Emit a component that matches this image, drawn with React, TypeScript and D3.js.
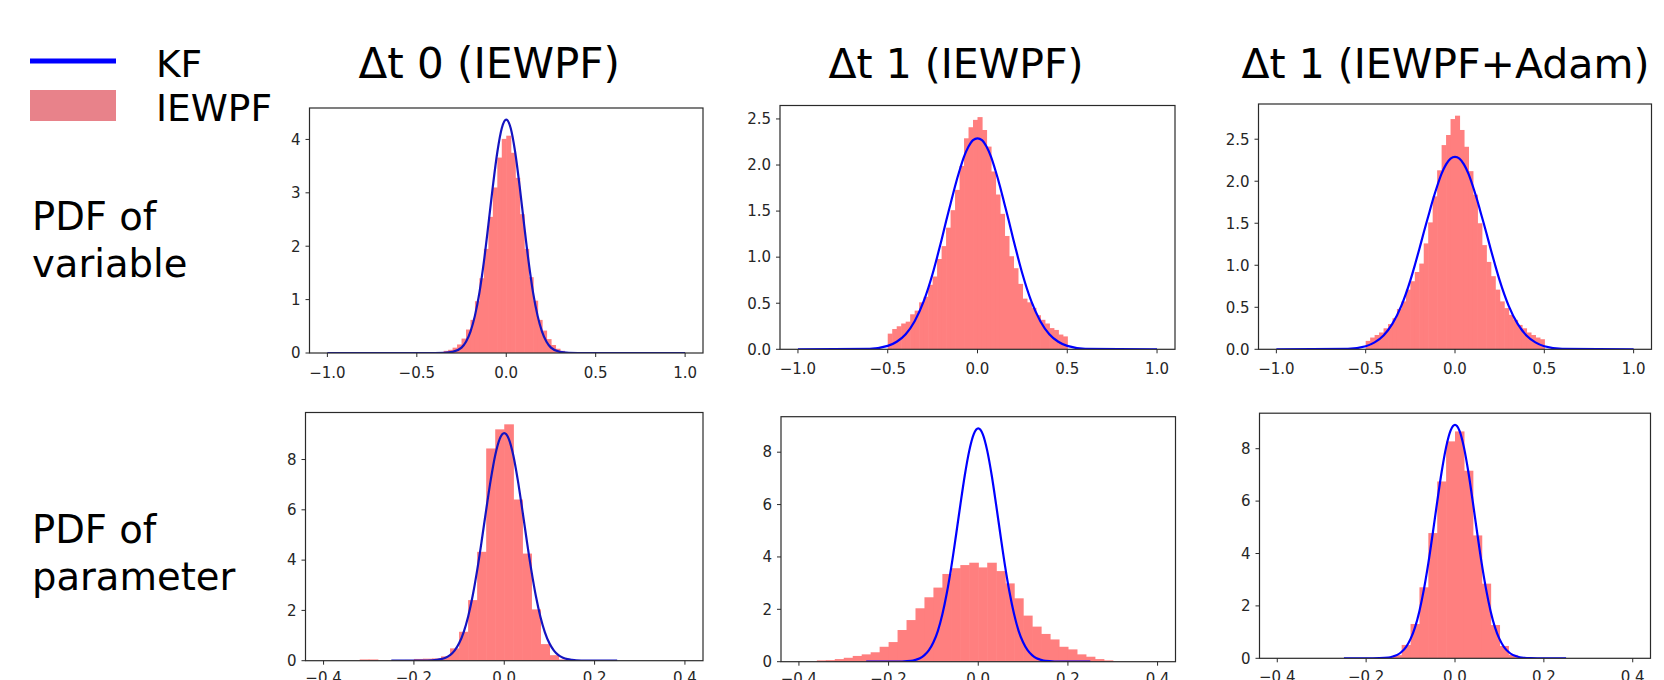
import React from "react";
import * as d3 from "d3";

// ---------- data ----------
const columnTitles = ["Δt 0 (IEWPF)", "Δt 1 (IEWPF)", "Δt 1 (IEWPF+Adam)"];
const rowLabels = [["PDF of", "variable"], ["PDF of", "parameter"]];
const legendLabels = ["KF", "IEWPF"];

// histogram bins: top row 40 bins over [-0.5, 0.5], bottom row 40 bins over [-0.4, 0.4]
const topBinStart = -0.5;
const topBinWidth = 0.025;
const botBinStart = -0.4;
const botBinWidth = 0.02;

const histVarDt0 = [
  0, 0, 0, 0, 0, 0.01, 0.04, 0.06, 0.1, 0.16, 0.27, 0.44, 0.62, 0.97, 1.4, 1.95, 2.55, 3.1, 3.66, 4.01,
  4.07, 3.75, 3.28, 2.6, 1.95, 1.42, 0.98, 0.62, 0.42, 0.26, 0.15, 0.08, 0.04, 0.01, 0, 0, 0, 0, 0, 0,
];
const histVarDt1 = [
  0.17, 0.22, 0.25, 0.28, 0.3, 0.38, 0.42, 0.51, 0.57, 0.7, 0.79, 0.98, 1.12, 1.32, 1.51, 1.73, 1.99, 2.29, 2.41, 2.49,
  2.52, 2.38, 2.2, 1.93, 1.68, 1.47, 1.23, 1.01, 0.88, 0.71, 0.55, 0.51, 0.45, 0.37, 0.32, 0.28, 0.23, 0.21, 0.16, 0.14,
];
const histVarDt1Adam = [
  0.1, 0.14, 0.17, 0.2, 0.25, 0.3, 0.37, 0.48, 0.57, 0.71, 0.81, 0.92, 1.02, 1.26, 1.51, 1.82, 2.13, 2.43, 2.55, 2.74,
  2.78, 2.61, 2.41, 2.12, 1.84, 1.5, 1.24, 1.04, 0.87, 0.71, 0.57, 0.49, 0.41, 0.35, 0.29, 0.25, 0.2, 0.17, 0.14, 0.12,
];
const histParDt0 = [
  0, 0, 0, 0, 0.05, 0.05, 0.01, 0.01, 0.02, 0.03, 0.07, 0.08, 0.09, 0.17, 0.49, 1.15, 2.41, 4.33, 8.44, 9.2,
  9.4, 6.41, 4.26, 2.04, 0.66, 0.22, 0.05, 0, 0, 0, 0, 0, 0, 0, 0, 0, 0, 0, 0, 0,
];
const histParDt1 = [
  0, 0, 0.05, 0.06, 0.1, 0.15, 0.22, 0.28, 0.36, 0.57, 0.75, 1.21, 1.59, 2.04, 2.46, 2.83, 3.35, 3.57, 3.69, 3.78,
  3.6, 3.78, 3.46, 2.99, 2.42, 1.76, 1.34, 1.06, 0.85, 0.57, 0.47, 0.28, 0.19, 0.1, 0.05, 0, 0, 0, 0, 0,
];
const histParDt1Adam = [
  0, 0, 0, 0, 0, 0, 0, 0, 0, 0, 0, 0.01, 0.03, 0.12, 0.51, 1.31, 2.71, 4.78, 6.75, 8.28,
  8.66, 7.16, 4.69, 2.85, 1.27, 0.47, 0.13, 0.04, 0, 0, 0, 0, 0, 0, 0, 0, 0, 0, 0, 0,
];

// KF density curves
const kfTopX = [
  -1, -0.6, -0.5, -0.45, -0.4, -0.35, -0.3, -0.25, -0.225, -0.2, -0.175, -0.15, -0.125, -0.1, -0.075, -0.05, -0.025,
  0, 0.025, 0.05, 0.075, 0.1, 0.125, 0.15, 0.175, 0.2, 0.225, 0.25, 0.3, 0.35, 0.4, 0.45, 0.5, 0.6, 1,
];
const kfVarDt0 = [
  0, 0, 0, 0, 0, 0.003, 0.02, 0.1, 0.21, 0.4, 0.7, 1.13, 1.71, 2.4, 3.12, 3.76, 4.21,
  4.37, 4.21, 3.76, 3.12, 2.4, 1.71, 1.13, 0.7, 0.4, 0.21, 0.1, 0.02, 0.003, 0, 0, 0, 0, 0,
];
const kfVarDt1 = [
  0, 0.006, 0.037, 0.082, 0.164, 0.305, 0.52, 0.82, 1.0, 1.19, 1.39, 1.58, 1.77, 1.94, 2.09, 2.2, 2.27,
  2.29, 2.27, 2.2, 2.09, 1.94, 1.77, 1.58, 1.39, 1.19, 1.0, 0.82, 0.52, 0.305, 0.164, 0.082, 0.037, 0.006, 0,
];
const kfBotX = [
  -0.25, -0.2, -0.17, -0.15, -0.14, -0.13, -0.12, -0.11, -0.1, -0.09, -0.08, -0.07, -0.06, -0.05, -0.04, -0.03, -0.02, -0.01,
  0, 0.01, 0.02, 0.03, 0.04, 0.05, 0.06, 0.07, 0.08, 0.09, 0.1, 0.11, 0.12, 0.13, 0.14, 0.15, 0.17, 0.2, 0.25,
];
const kfParDt0 = [
  0, 0, 0.005, 0.03, 0.06, 0.12, 0.22, 0.4, 0.69, 1.13, 1.75, 2.57, 3.59, 4.76, 6.0, 7.18, 8.17, 8.82,
  9.05, 8.82, 8.17, 7.18, 6.0, 4.76, 3.59, 2.57, 1.75, 1.13, 0.69, 0.4, 0.22, 0.12, 0.06, 0.03, 0.005, 0, 0,
];
const kfParDt1 = [
  0, 0, 0.007, 0.03, 0.07, 0.13, 0.25, 0.44, 0.74, 1.18, 1.81, 2.63, 3.63, 4.78, 5.98, 7.12, 8.06, 8.69,
  8.91, 8.69, 8.06, 7.12, 5.98, 4.78, 3.63, 2.63, 1.81, 1.18, 0.74, 0.44, 0.25, 0.13, 0.07, 0.03, 0.007, 0, 0,
];

const topXTicks = [-1, -0.5, 0, 0.5, 1];
const botXTicks = [-0.4, -0.2, 0, 0.2, 0.4];
const yTicksDt0Var = [0, 1, 2, 3, 4];
const yTicksVarDt1 = [0, 0.5, 1, 1.5, 2, 2.5];
const yTicksPar = [0, 2, 4, 6, 8];

// ---------- layout ----------
const W = 1664;
const H = 680;
const FONT = "DejaVu Sans, Verdana, sans-serif";
const HIST_COLOR = "#ff7f7f";
const LINE_COLOR = "#0000ff";
const LINE_COLOR_DARK = "#1414c0";

type Panel = {
  box: [number, number, number, number]; // left, right, top, bottom
  hist: number[];
  binStart: number;
  binWidth: number;
  kfX: number[];
  kfY: number[];
  xExtent: [number, number];
  xTicks: number[];
  yTicks: number[];
  yDecimals: number;
  labelDy: number;
  lineColor: string;
};

const panels: Panel[] = [
  { box: [309.5, 703, 108, 353], hist: histVarDt0, binStart: topBinStart, binWidth: topBinWidth, kfX: kfTopX, kfY: kfVarDt0, xExtent: [-1, 1], xTicks: topXTicks, yTicks: yTicksDt0Var, yDecimals: 0, labelDy: 25, lineColor: LINE_COLOR_DARK },
  { box: [780, 1175, 105.5, 349.3], hist: histVarDt1, binStart: topBinStart, binWidth: topBinWidth, kfX: kfTopX, kfY: kfVarDt1, xExtent: [-1, 1], xTicks: topXTicks, yTicks: yTicksVarDt1, yDecimals: 1, labelDy: 25, lineColor: LINE_COLOR },
  { box: [1258.5, 1651.5, 104, 349.3], hist: histVarDt1Adam, binStart: topBinStart, binWidth: topBinWidth, kfX: kfTopX, kfY: kfVarDt1, xExtent: [-1, 1], xTicks: topXTicks, yTicks: yTicksVarDt1, yDecimals: 1, labelDy: 25, lineColor: LINE_COLOR },
  { box: [305.5, 703, 412.5, 660.7], hist: histParDt0, binStart: botBinStart, binWidth: botBinWidth, kfX: kfBotX, kfY: kfParDt0, xExtent: [-0.4, 0.4], xTicks: botXTicks, yTicks: yTicksPar, yDecimals: 0, labelDy: 22.5, lineColor: LINE_COLOR_DARK },
  { box: [781, 1175.5, 416.7, 661.7], hist: histParDt1, binStart: botBinStart, binWidth: botBinWidth, kfX: kfBotX, kfY: kfParDt1, xExtent: [-0.4, 0.4], xTicks: botXTicks, yTicks: yTicksPar, yDecimals: 0, labelDy: 22.5, lineColor: LINE_COLOR },
  { box: [1259.5, 1650.5, 413.2, 658.3], hist: histParDt1Adam, binStart: botBinStart, binWidth: botBinWidth, kfX: kfBotX, kfY: kfParDt1, xExtent: [-0.4, 0.4], xTicks: botXTicks, yTicks: yTicksPar, yDecimals: 0, labelDy: 23.5, lineColor: LINE_COLOR },
];

const fmt = (v: number, d: number) => {
  const s = Math.abs(v).toFixed(d);
  return (v < 0 ? "\u2212" : "") + s;
};

function PanelView({ p, idx }: { p: Panel; idx: number }) {
  const [l, r, t, b] = p.box;
  const span = p.xExtent[1] - p.xExtent[0];
  const x = d3.scaleLinear().domain([p.xExtent[0] - 0.05 * span, p.xExtent[1] + 0.05 * span]).range([l, r]);
  const ymax = 1.05 * Math.max(d3.max(p.hist) ?? 0, d3.max(p.kfY) ?? 0);
  const y = d3.scaleLinear().domain([0, ymax]).range([b, t]);
  const line = d3
    .line<number>()
    .x((_, i) => x(p.kfX[i]))
    .y((v) => y(v))
    .curve(d3.curveMonotoneX);
  const clipId = `clip${idx}`;
  return (
    <g>
      <defs>
        <clipPath id={clipId}>
          <rect x={l} y={t} width={r - l} height={b - t} />
        </clipPath>
      </defs>
      <g clipPath={`url(#${clipId})`}>
        {p.hist.map((v, i) => {
          if (v <= 0) return null;
          const x0 = x(p.binStart + i * p.binWidth);
          const x1 = x(p.binStart + (i + 1) * p.binWidth);
          return <rect key={i} x={x0} y={y(v)} width={x1 - x0 + 0.6} height={b - y(v)} fill={HIST_COLOR} />;
        })}
        <path d={line(p.kfY) ?? ""} fill="none" stroke={p.lineColor} strokeWidth={2.2} />
      </g>
      <rect x={l} y={t} width={r - l} height={b - t} fill="none" stroke="#2a2a2a" strokeWidth={1.2} />
      {p.xTicks.map((v) => (
        <g key={`x${v}`}>
          <line x1={x(v)} x2={x(v)} y1={b} y2={b + 4} stroke="#2a2a2a" strokeWidth={1} />
          <text x={x(v)} y={b + p.labelDy} textAnchor="middle" fontSize={15} fontFamily={FONT} fill="#262626">
            {fmt(v, 1)}
          </text>
        </g>
      ))}
      {p.yTicks.map((v) => (
        <g key={`y${v}`}>
          <line x1={l - 4} x2={l} y1={y(v)} y2={y(v)} stroke="#2a2a2a" strokeWidth={1} />
          <text x={l - 9} y={y(v) + 5.3} textAnchor="end" fontSize={15} fontFamily={FONT} fill="#262626">
            {fmt(v, p.yDecimals)}
          </text>
        </g>
      ))}
    </g>
  );
}

export default function App() {
  const titleX = [358.5, 828.5, 1241.5];
  return (
    <svg width={W} height={H} style={{ position: "absolute", left: 0, top: 0, background: "#fff" }}>
      <rect x={0} y={0} width={W} height={H} fill="#fff" />
      {/* legend */}
      <line x1={30} x2={116} y1={61} y2={61} stroke={LINE_COLOR} strokeWidth={5} />
      <rect x={30} y={90} width={86} height={31} fill="#e8828a" />
      <text x={156} y={77} fontSize={37.5} fontFamily={FONT} fill="#000">{legendLabels[0]}</text>
      <text x={156} y={121} fontSize={37.5} fontFamily={FONT} fill="#000">{legendLabels[1]}</text>
      {/* column titles */}
      {columnTitles.map((s, i) => (
        <text key={s} x={titleX[i]} y={77.5} fontSize={i === 0 ? 42 : 41} fontFamily={FONT} fill="#000">
          {s}
        </text>
      ))}
      {/* row labels */}
      {rowLabels.map((lines, i) => (
        <text key={i} x={32} y={i === 0 ? 230 : 543} fontSize={38.5} fontFamily={FONT} fill="#000">
          <tspan x={32}>{lines[0]}</tspan>
          <tspan x={32} dy={46.5}>{lines[1]}</tspan>
        </text>
      ))}
      {panels.map((p, i) => (
        <PanelView key={i} p={p} idx={i} />
      ))}
    </svg>
  );
}
